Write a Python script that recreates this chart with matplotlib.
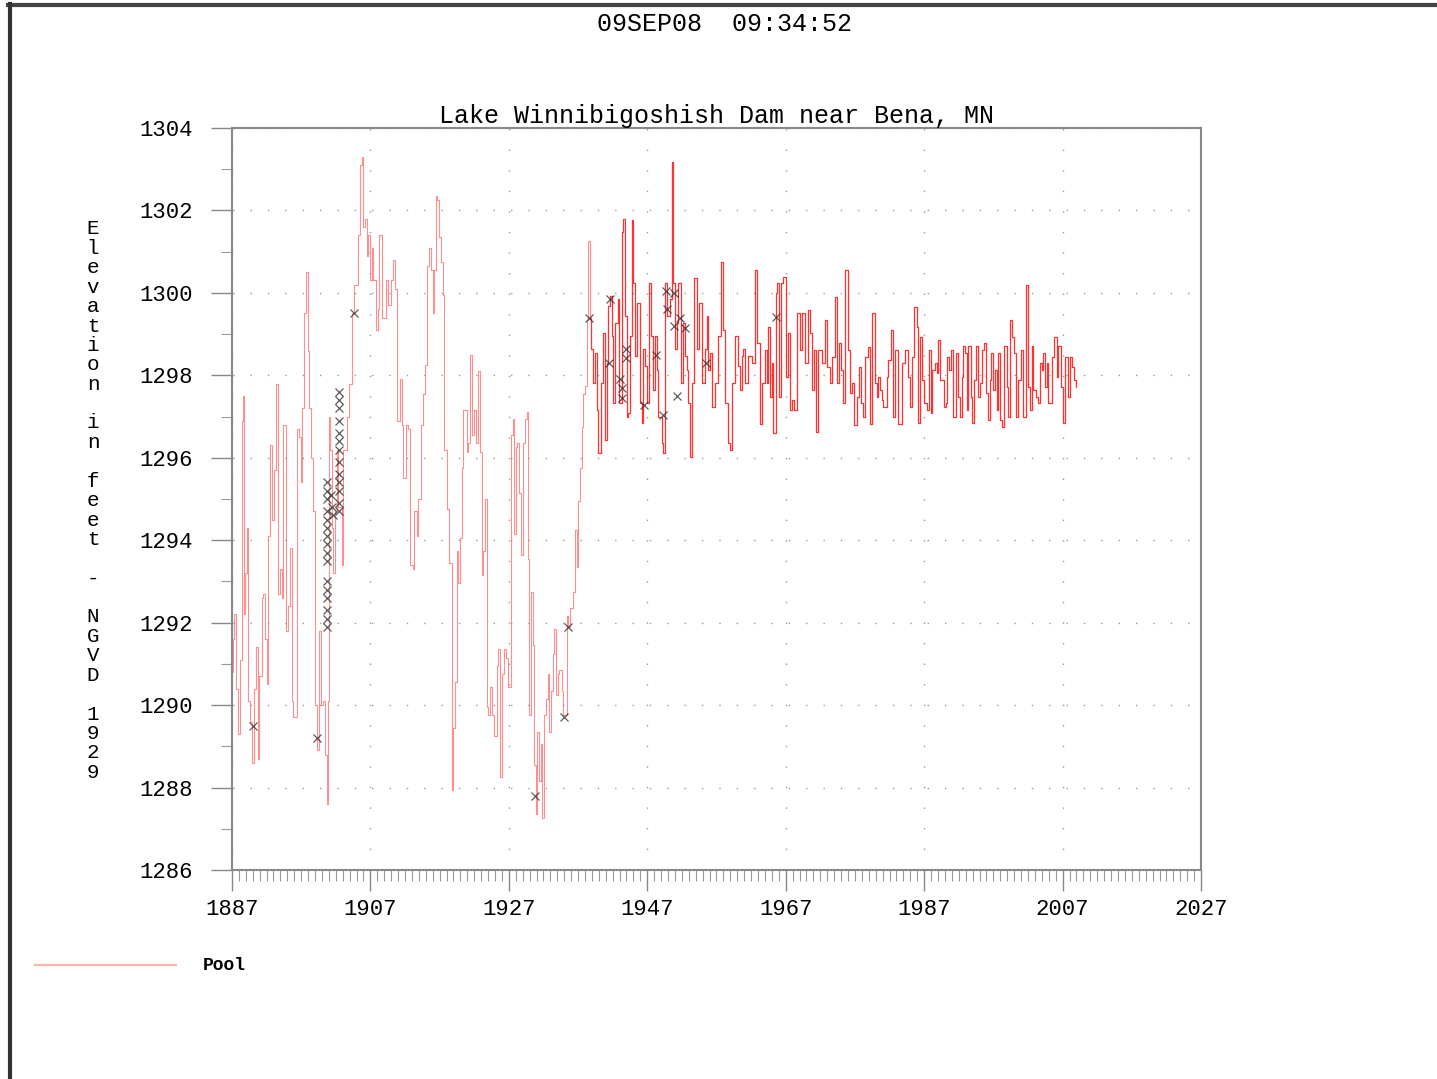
import numpy as np
import matplotlib
matplotlib.use("Agg")
import matplotlib.pyplot as plt
from matplotlib.lines import Line2D

# Pool elevation readings (year, feet NGVD 1929)
years_1887_1914 = [1887.0, 1887.1, 1887.29, 1887.58, 1887.82, 1888.15, 1888.4, 1888.64, 1888.73, 1888.88,
                   1889.12, 1889.36, 1889.6, 1889.84, 1890.18, 1890.42, 1890.71, 1890.95, 1891.28, 1891.53,
                   1891.77, 1892.01, 1892.25, 1892.49, 1892.83, 1893.11, 1893.31, 1893.6, 1893.93, 1894.17,
                   1894.42, 1894.75, 1895.14, 1895.38, 1895.62, 1895.86, 1896.34, 1896.68, 1896.92, 1897.06,
                   1897.4, 1897.64, 1897.93, 1898.17, 1898.41, 1898.65, 1898.99, 1899.33, 1899.62, 1899.81,
                   1900.19, 1900.44, 1900.68, 1900.82, 1900.97, 1901.16, 1901.4, 1901.64, 1901.88, 1902.12,
                   1902.36, 1902.84, 1903.08, 1903.57, 1903.95, 1904.29, 1904.63, 1905.01, 1905.25, 1905.49,
                   1905.73, 1905.97, 1906.21, 1906.46, 1906.7, 1906.94, 1907.18, 1907.42, 1907.75, 1908.04,
                   1908.28, 1908.62, 1908.96, 1909.25, 1909.59, 1909.97, 1910.31, 1910.55, 1910.79, 1911.27,
                   1911.51, 1911.75, 1912.14, 1912.48, 1912.72, 1913.1, 1913.34, 1913.68, 1913.92, 1914.26]
elev_1887_1914 = [1290.8, 1291.6, 1292.2, 1290.4, 1289.3, 1291.1, 1296.9, 1297.5, 1292.2, 1293.2,
                  1294.3, 1290.1, 1289.6, 1288.6, 1290.4, 1291.4, 1288.7, 1290.7, 1292.6, 1292.7,
                  1291.6, 1290.5, 1294.1, 1296.3, 1294.5, 1295.7, 1297.8, 1292.7, 1293.3, 1292.6,
                  1296.8, 1291.8, 1292.4, 1293.8, 1290.1, 1289.7, 1296.7, 1296.5, 1295.4, 1297.2,
                  1299.5, 1300.5, 1298.6, 1297.2, 1296.0, 1294.7, 1290.0, 1288.9, 1291.8, 1290.0,
                  1290.1, 1288.8, 1287.6, 1290.1, 1297.0, 1296.2, 1294.3, 1293.2, 1294.7, 1296.2,
                  1294.8, 1293.4, 1296.2, 1297.0, 1297.8, 1299.5, 1300.2, 1300.2, 1301.4, 1303.1,
                  1303.3, 1301.6, 1301.8, 1300.9, 1301.4, 1300.3, 1301.1, 1300.3, 1299.1, 1299.6,
                  1301.4, 1299.4, 1299.4, 1300.3, 1299.7, 1300.3, 1300.8, 1300.1, 1296.9, 1297.9,
                  1296.8, 1295.5, 1296.8, 1296.7, 1293.4, 1293.3, 1294.7, 1294.1, 1295.0, 1296.8]

years_1914_1938 = [1914.64, 1914.88, 1915.12, 1915.51, 1915.75, 1915.99, 1916.18, 1916.42, 1916.66, 1916.95,
                   1917.19, 1917.43, 1917.68, 1918.01, 1918.4, 1918.74, 1918.98, 1919.22, 1919.46, 1919.7,
                   1919.94, 1920.18, 1920.42, 1920.9, 1921.14, 1921.38, 1921.62, 1921.96, 1922.25, 1922.59,
                   1922.83, 1923.07, 1923.31, 1923.55, 1923.79, 1924.03, 1924.27, 1924.51, 1924.85, 1925.24,
                   1925.48, 1925.72, 1925.96, 1926.3, 1926.59, 1926.92, 1927.26, 1927.55, 1927.79, 1928.03,
                   1928.22, 1928.51, 1928.75, 1929.09, 1929.33, 1929.57, 1929.72, 1929.91, 1930.2, 1930.44,
                   1930.63, 1930.87, 1931.11, 1931.4, 1931.59, 1931.83, 1932.08, 1932.32, 1932.6, 1932.85,
                   1933.09, 1933.33, 1933.57, 1933.81, 1934.05, 1934.29, 1934.63, 1934.87, 1935.35, 1935.59,
                   1935.83, 1936.31, 1936.55, 1936.8, 1937.04, 1937.28, 1937.52, 1937.76, 1938.0, 1938.34,
                   1938.48, 1938.72]
elev_1914_1938 = [1297.55, 1298.25, 1300.65, 1301.1, 1300.55, 1299.5, 1300.55, 1302.35, 1302.25, 1301.35,
                  1300.75, 1299.95, 1296.2, 1294.75, 1293.45, 1287.95, 1289.45, 1290.55, 1293.75, 1292.95,
                  1294.05, 1295.75, 1297.15, 1296.15, 1296.35, 1298.5, 1296.55, 1297.15, 1296.35, 1298.1,
                  1296.15, 1293.15, 1293.75, 1295.0, 1289.95, 1289.75, 1290.45, 1289.75, 1289.25, 1290.95,
                  1291.35, 1288.25, 1290.75, 1291.35, 1291.15, 1290.45, 1296.55, 1296.95, 1294.15, 1296.25,
                  1296.35, 1295.15, 1293.65, 1296.35, 1296.95, 1297.1, 1293.55, 1289.75, 1292.75, 1291.45,
                  1288.55, 1287.35, 1289.35, 1288.15, 1289.05, 1287.25, 1289.75, 1290.15, 1290.75, 1289.35,
                  1290.35, 1291.25, 1291.85, 1290.25, 1290.75, 1290.85, 1290.35, 1289.75, 1292.15, 1291.9,
                  1292.35, 1292.75, 1294.25, 1293.35, 1294.95, 1295.75, 1296.75, 1297.55, 1297.75, 1299.35,
                  1301.25, 1299.4]

years_1938_1962 = [1938.87, 1939.21, 1939.45, 1939.69, 1939.93, 1940.32, 1940.65, 1940.89, 1941.14, 1941.38,
                   1941.62, 1941.86, 1942.1, 1942.34, 1942.72, 1942.97, 1943.3, 1943.54, 1943.78, 1944.02,
                   1944.27, 1944.51, 1944.75, 1944.99, 1945.23, 1945.47, 1945.95, 1946.19, 1946.43, 1946.67,
                   1946.91, 1947.25, 1947.54, 1947.88, 1948.12, 1948.36, 1948.6, 1949.08, 1949.32, 1949.56,
                   1949.8, 1950.29, 1950.53, 1950.77, 1951.01, 1951.25, 1951.49, 1951.88, 1952.21, 1952.45,
                   1952.69, 1952.93, 1953.18, 1953.42, 1953.75, 1954.14, 1954.48, 1954.86, 1955.34, 1955.58,
                   1955.82, 1956.06, 1956.31, 1956.79, 1957.27, 1957.61, 1957.89, 1958.23, 1958.71, 1958.95,
                   1959.29, 1959.68, 1960.06, 1960.4, 1960.64, 1960.88, 1961.12, 1961.6, 1962.08]
elev_1938_1962 = [1298.63, 1297.81, 1298.54, 1297.16, 1296.11, 1297.81, 1299.03, 1296.43, 1298.3, 1299.68,
                  1299.93, 1298.95, 1297.33, 1299.28, 1299.85, 1297.33, 1301.47, 1301.8, 1299.44, 1297.0,
                  1297.08, 1298.95, 1301.76, 1300.25, 1298.46, 1299.76, 1297.33, 1296.84, 1298.63, 1298.22,
                  1297.33, 1300.25, 1298.95, 1297.65, 1298.95, 1298.14, 1297.0, 1296.35, 1296.11, 1300.25,
                  1299.44, 1299.85, 1303.18, 1300.25, 1298.63, 1299.28, 1300.25, 1297.81, 1299.28, 1298.46,
                  1298.14, 1297.33, 1296.02, 1297.81, 1300.37, 1298.63, 1299.76, 1297.81, 1298.63, 1299.44,
                  1298.14, 1298.54, 1297.24, 1297.81, 1298.95, 1300.74, 1299.11, 1297.33, 1296.35, 1296.19,
                  1297.81, 1298.95, 1298.22, 1297.65, 1298.46, 1298.63, 1297.81, 1298.46, 1298.3]

years_1962_1986 = [1962.57, 1962.81, 1963.29, 1963.53, 1964.01, 1964.26, 1964.5, 1964.74, 1964.98, 1965.22,
                   1965.56, 1965.75, 1966.04, 1966.33, 1966.66, 1967.0, 1967.29, 1967.63, 1967.87, 1968.25,
                   1968.59, 1969.07, 1969.41, 1969.79, 1970.18, 1970.52, 1970.76, 1971.14, 1971.38, 1971.72,
                   1972.2, 1972.68, 1972.92, 1973.41, 1973.65, 1974.13, 1974.37, 1974.71, 1974.99, 1975.33,
                   1975.57, 1975.96, 1976.3, 1976.54, 1976.92, 1977.26, 1977.6, 1977.88, 1978.22, 1978.46,
                   1978.85, 1979.18, 1979.52, 1979.91, 1980.15, 1980.39, 1980.63, 1980.87, 1981.11, 1981.59,
                   1981.83, 1982.22, 1982.56, 1982.8, 1983.28, 1983.76, 1984.24, 1984.63, 1984.96, 1985.3,
                   1985.59]
elev_1962_1986 = [1300.55, 1298.78, 1296.83, 1297.81, 1298.61, 1297.81, 1299.18, 1297.48, 1298.29, 1296.59,
                  1299.99, 1300.23, 1297.48, 1300.23, 1300.39, 1297.97, 1299.02, 1297.16, 1297.4, 1297.16,
                  1299.5, 1298.61, 1299.5, 1298.29, 1299.58, 1299.02, 1297.64, 1298.61, 1296.63, 1298.61,
                  1298.29, 1299.34, 1298.21, 1297.81, 1298.45, 1299.91, 1297.81, 1298.78, 1298.13, 1297.32,
                  1300.55, 1298.61, 1297.56, 1297.81, 1296.8, 1297.48, 1298.21, 1297.32, 1297.0, 1298.45,
                  1298.69, 1296.83, 1299.5, 1297.81, 1297.48, 1297.97, 1297.64, 1297.4, 1297.24, 1297.97,
                  1298.37, 1299.1, 1297.0, 1298.61, 1296.83, 1298.29, 1298.61, 1297.97, 1297.24, 1298.45,
                  1299.66]

years_1986_2009 = [1985.93, 1986.17, 1986.41, 1986.65, 1987.04, 1987.38, 1987.71, 1987.95, 1988.19, 1988.58,
                   1988.82, 1989.06, 1989.35, 1989.64, 1989.88, 1990.12, 1990.36, 1990.65, 1990.89, 1991.23,
                   1991.57, 1991.85, 1992.19, 1992.43, 1992.67, 1992.91, 1993.15, 1993.4, 1993.73, 1993.97,
                   1994.26, 1994.5, 1994.84, 1995.08, 1995.42, 1995.71, 1995.95, 1996.19, 1996.48, 1996.67,
                   1997.01, 1997.25, 1997.49, 1997.73, 1997.97, 1998.31, 1998.6, 1998.93, 1999.17, 1999.46,
                   1999.75, 2000.04, 2000.28, 2000.62, 2001.0, 2001.34, 2001.73, 2001.97, 2002.31, 2002.55,
                   2002.79, 2003.12, 2003.41, 2003.75, 2003.99, 2004.23, 2004.47, 2004.71, 2004.95, 2005.19,
                   2005.53, 2005.82, 2006.16, 2006.4, 2006.73, 2007.02, 2007.36, 2007.75, 2008.08, 2008.33,
                   2008.66, 2008.95]
elev_1986_2009 = [1299.18, 1296.84, 1298.94, 1297.89, 1297.32, 1297.16, 1298.61, 1297.08, 1298.13, 1298.29,
                  1298.05, 1298.86, 1297.89, 1297.89, 1297.24, 1297.32, 1298.45, 1298.13, 1298.61, 1297.0,
                  1298.53, 1297.48, 1297.0, 1297.97, 1298.7, 1298.53, 1297.16, 1298.7, 1297.48, 1296.84,
                  1297.89, 1298.7, 1297.48, 1297.81, 1298.61, 1298.78, 1297.56, 1296.92, 1297.89, 1298.53,
                  1297.64, 1298.13, 1297.16, 1298.53, 1296.92, 1296.75, 1298.7, 1297.72, 1297.0, 1299.34,
                  1298.94, 1298.53, 1297.0, 1297.89, 1298.61, 1297.0, 1300.19, 1297.72, 1297.16, 1298.7,
                  1297.64, 1297.48, 1297.32, 1298.29, 1298.13, 1298.53, 1297.72, 1298.29, 1297.32, 1297.32,
                  1298.45, 1298.94, 1297.97, 1298.7, 1297.72, 1296.84, 1298.45, 1297.48, 1298.45, 1298.21,
                  1297.89, 1297.72]

# manual (observed) readings plotted as x marks
obs_years = [1890.0, 1899.3,
             1900.7, 1900.7, 1900.7, 1900.7, 1900.7, 1900.7, 1900.7, 1900.7,
             1900.7, 1900.7, 1900.7, 1900.7, 1900.7, 1900.7, 1900.7, 1900.7,
             1901.3, 1901.5, 1901.6,
             1902.4, 1902.4, 1902.4, 1902.4, 1902.4, 1902.4, 1902.4, 1902.4,
             1902.4, 1902.4, 1902.4, 1902.4, 1902.4,
             1904.6, 1930.8, 1934.9, 1935.6, 1938.6,
             1941.6, 1941.4, 1943.1, 1943.3, 1943.3, 1944.0, 1944.0, 1946.6, 1948.3,
             1949.3, 1949.7, 1949.9, 1950.8, 1950.9, 1951.7, 1952.5, 1951.3, 1955.5, 1965.6]
obs_elev = [1289.5, 1289.2,
            1295.4, 1295.2, 1295.0, 1294.7, 1294.5, 1294.3, 1294.1, 1293.9,
            1293.7, 1293.5, 1293.0, 1292.8, 1292.6, 1292.3, 1292.1, 1291.9,
            1295.1, 1294.8, 1294.6,
            1297.6, 1297.4, 1297.2, 1296.9, 1296.6, 1296.4, 1296.2, 1295.9,
            1295.6, 1295.4, 1295.2, 1294.9, 1294.7,
            1299.5, 1287.8, 1289.7, 1291.9, 1299.4,
            1299.85, 1298.3, 1297.9, 1297.7, 1297.45, 1298.63, 1298.42, 1297.28, 1298.5,
            1297.04, 1300.05, 1299.62, 1299.99, 1299.2, 1299.4, 1299.15, 1297.49, 1298.3, 1299.42]

early_years = np.array(years_1887_1914 + years_1914_1938)
early_elev = np.array(elev_1887_1914 + elev_1914_1938)
late_years = np.array(years_1914_1938[-1:] + years_1938_1962 + years_1962_1986 + years_1986_2009)
late_elev = np.array(elev_1914_1938[-1:] + elev_1938_1962 + elev_1962_1986 + elev_1986_2009)

mono = "Liberation Mono"

fig = plt.figure(figsize=(14.37, 10.79), dpi=100)
ax = fig.add_axes([0.1614, 0.1937, 0.8358 - 0.1614, 0.8814 - 0.1937])

# sparse early record reads as a faint pink trace, the dense regulated record as solid red
ax.plot(early_years, early_elev, color="#ff6a6a", lw=0.8, alpha=0.75, drawstyle="steps-post")
ax.plot(late_years, late_elev, color="#ff1a1a", lw=0.9, alpha=0.9, drawstyle="steps-post")
ax.plot(obs_years, obs_elev, linestyle="none", marker="x", ms=6, mew=0.9, color="#333333", alpha=0.8)

ax.set_xlim(1887, 2027)
ax.set_ylim(1286, 1304)
ax.set_xticks(range(1887, 2028, 20))
ax.set_xticks(range(1887, 2028, 1), minor=True)
ax.set_yticks(range(1286, 1305, 2))
ax.set_yticks(range(1286, 1305, 1), minor=True)

ax.tick_params(axis="both", which="major", direction="out", length=15, width=1.0, color="#888888",
               labelsize=16)
ax.tick_params(axis="both", which="minor", direction="out", length=8, width=0.8, color="#999999")
ax.tick_params(axis="y", which="major", pad=13)
ax.tick_params(axis="x", which="major", pad=6)
for lab in ax.get_xticklabels() + ax.get_yticklabels():
    lab.set_fontfamily(mono)

for sp in ax.spines.values():
    sp.set_color("#888888")
    sp.set_linewidth(1.5)

ax.xaxis.grid(True, which="major", color="#999999", lw=1.0, linestyle=(0, (1, 13.8)))
ax.yaxis.grid(True, which="major", color="#999999", lw=1.0, linestyle=(12, (1, 11.5)))
ax.set_axisbelow(True)

ax.set_title("Lake Winnibigoshish Dam near Bena, MN", fontfamily=mono, fontsize=18, pad=2)

fig.text(0.5045, 0.978, "09SEP08  09:34:52", fontfamily=mono, fontsize=18, ha="center", va="center")

# stacked y label, one character per line
ylabel = "Elevation in feet - NGVD 1929"
for i, ch in enumerate(ylabel):
    fig.text(93 / 1437, 1 - (229 + i * 19.4) / 1079, ch, fontfamily=mono, fontsize=15,
             ha="center", va="center")

# legend
fig.add_artist(Line2D([35 / 1437, 176 / 1437], [1 - 965 / 1079] * 2, color="#ffb3b3", lw=1.6,
                      transform=fig.transFigure))
fig.text(203 / 1437, 1 - 966 / 1079, "Pool", fontfamily=mono, fontsize=13, fontweight="bold",
         ha="left", va="center")

# window frame edges
fig.add_artist(Line2D([8 / 1437, 1], [1 - 5 / 1079] * 2, color="#444444", lw=3,
                      transform=fig.transFigure))
fig.add_artist(Line2D([10 / 1437] * 2, [0, 1 - 4 / 1079], color="#333333", lw=3,
                      transform=fig.transFigure))

fig.savefig("out.png", dpi=100)
